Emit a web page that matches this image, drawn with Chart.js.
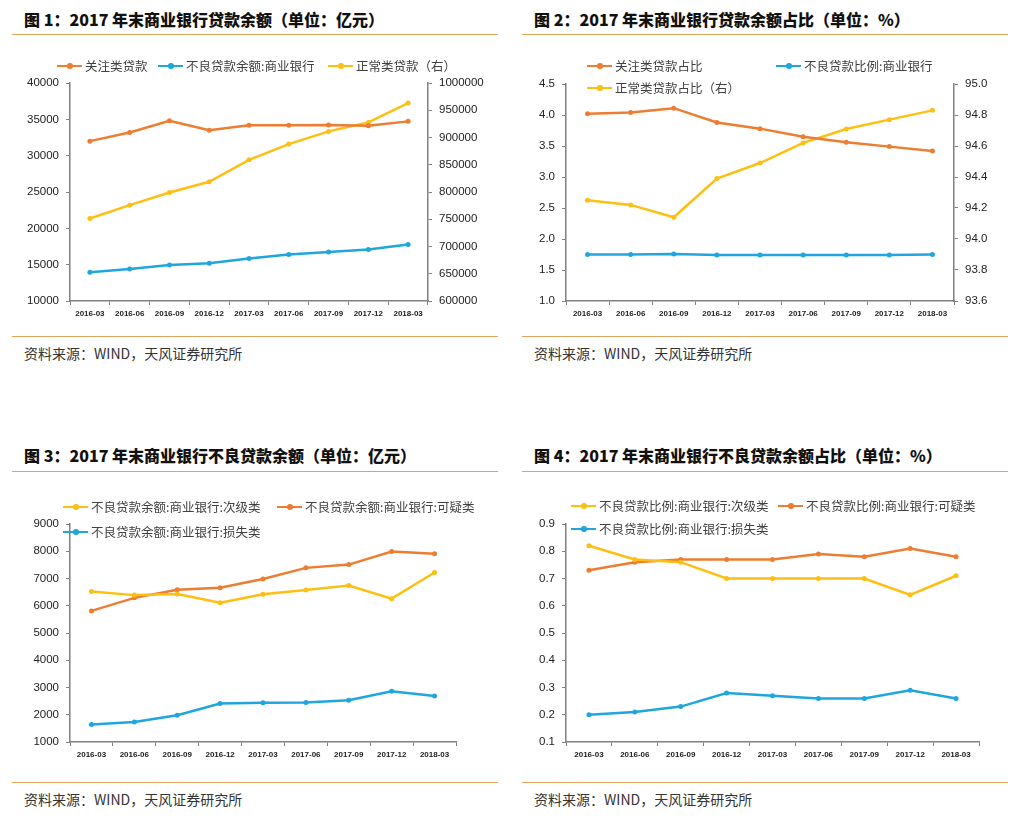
<!DOCTYPE html>
<html>
<head>
<meta charset="utf-8">
<script src="https://cdn.jsdelivr.net/npm/chart.js@4.4.1/dist/chart.umd.min.js"></script>
<style>
  body { margin: 0; background: #fff; }
  #page { position: relative; width: 1019px; height: 822px; overflow: hidden; background: #fff; font-family: "Noto Sans CJK SC", sans-serif; }
  .panel { position: absolute; }
  .panel canvas { position: absolute; left: 0; top: 0; }
  .title { position: absolute; left: 24px; font-size: 16px; font-weight: 900; color: #111; white-space: nowrap; line-height: 20px; }
  .rule { position: absolute; left: 12px; width: 486px; height: 0; border-top: 1.5px solid #DFA55C; }
  .source { position: absolute; left: 24px; font-size: 14px; color: #333; line-height: 18px; white-space: nowrap; }
  .lg { position: absolute; display: flex; align-items: center; font-size: 12.5px; color: #404040; white-space: nowrap; line-height: 16px; z-index: 2; }
  .lg i { position: relative; display: inline-block; width: 25px; height: 2.5px; margin-right: 3px; }
  .lg i b { position: absolute; left: 10px; top: -1.5px; width: 5.5px; height: 5.5px; border-radius: 50%; background: inherit; }
</style>
</head>
<body>
<div id="page">
  <div class="panel" style="left:0;top:0;width:510px;height:430px">
    <div class="title" style="top:9px">图 1：2017 年末商业银行贷款余额（单位：亿元）</div>
    <div class="rule" style="top:34px"></div>
    <canvas id="chart1" width="510" height="330"></canvas>
    <div id="legend1"></div>
    <div class="rule" style="top:336px"></div>
    <div class="source" style="top:344px">资料来源：WIND，天风证券研究所</div>
  </div>
  <div class="panel" style="left:510px;top:0;width:509px;height:430px">
    <div class="title" style="top:9px">图 2：2017 年末商业银行贷款余额占比（单位：%）</div>
    <div class="rule" style="top:34px"></div>
    <canvas id="chart2" width="509" height="330"></canvas>
    <div id="legend2"></div>
    <div class="rule" style="top:336px"></div>
    <div class="source" style="top:344px">资料来源：WIND，天风证券研究所</div>
  </div>
  <div class="panel" style="left:0;top:430px;width:510px;height:392px">
    <div class="title" style="top:15px">图 3：2017 年末商业银行不良贷款余额（单位：亿元）</div>
    <div class="rule" style="top:41px"></div>
    <canvas id="chart3" width="510" height="341"></canvas>
    <div id="legend3"></div>
    <div class="rule" style="top:352px"></div>
    <div class="source" style="top:360px">资料来源：WIND，天风证券研究所</div>
  </div>
  <div class="panel" style="left:510px;top:430px;width:509px;height:392px">
    <div class="title" style="top:15px">图 4：2017 年末商业银行不良贷款余额占比（单位：%）</div>
    <div class="rule" style="top:41px"></div>
    <canvas id="chart4" width="509" height="341"></canvas>
    <div id="legend4"></div>
    <div class="rule" style="top:352px"></div>
    <div class="source" style="top:360px">资料来源：WIND，天风证券研究所</div>
  </div>
</div>
<script>
// Quarter labels shared by all four charts
const quarters = ["2016-03", "2016-06", "2016-09", "2016-12", "2017-03", "2017-06", "2017-09", "2017-12", "2018-03"];

// Chart 1: loan balances (亿元)
const attentionLoans = [32000, 33200, 34800, 33500, 34200, 34170, 34210, 34120, 34720];
const nplBalance = [13950, 14410, 14960, 15190, 15840, 16390, 16750, 17080, 17760];
const normalLoans = [751300, 775800, 799100, 818700, 859100, 887900, 911200, 927700, 963200];

// Chart 2: loan shares (%)
const attentionRatio = [4.02, 4.04, 4.11, 3.88, 3.78, 3.65, 3.56, 3.49, 3.42];
const nplRatio = [1.75, 1.75, 1.76, 1.74, 1.74, 1.74, 1.74, 1.74, 1.75];
const normalRatio = [94.25, 94.22, 94.14, 94.39, 94.49, 94.62, 94.71, 94.77, 94.83];

// Chart 3: NPL balances by class (亿元)
const substandard = [6520, 6390, 6430, 6110, 6420, 6580, 6740, 6260, 7220];
const doubtful = [5810, 6290, 6590, 6660, 6980, 7390, 7510, 7990, 7910];
const loss = [1640, 1730, 1980, 2410, 2440, 2450, 2530, 2860, 2690];

// Chart 4: NPL ratios by class (%)
const substandardRatio = [0.82, 0.77, 0.76, 0.70, 0.70, 0.70, 0.70, 0.64, 0.71];
const doubtfulRatio = [0.73, 0.76, 0.77, 0.77, 0.77, 0.79, 0.78, 0.81, 0.78];
const lossRatio = [0.20, 0.21, 0.23, 0.28, 0.27, 0.26, 0.26, 0.29, 0.26];

const ORANGE = "#ED7D31";
const BLUE = "#1FA6DE";
const YELLOW = "#FDBF12";
const AXIS = "#808080";
const TICK_FONT = "'Liberation Sans', Arial, sans-serif";

function series(label, data, color, yAxisID = "y") {
  return {
    label,
    data,
    borderColor: color,
    backgroundColor: color,
    borderWidth: 2.5,
    pointRadius: 2.5,
    pointHoverRadius: 2.5,
    pointBorderWidth: 0,
    tension: 0,
    yAxisID,
  };
}

function valueAxis(position, min, max, step, digits, plotEdge, W) {
  return {
    position,
    min,
    max,
    grid: { drawOnChartArea: false, color: AXIS, tickLength: 4, lineWidth: 1 },
    border: { color: AXIS, width: 1.5 },
    ticks: {
      stepSize: step,
      color: "#222",
      padding: 7,
      font: { family: TICK_FONT, size: 11.5 },
      callback: (v) => Number(v).toFixed(digits),
    },
    afterFit: (s) => {
      s.width = position === "left" ? plotEdge : W - plotEdge;
    },
  };
}

function buildLegend(id, items) {
  const holder = document.getElementById(id);
  items.forEach((it) => {
    const el = document.createElement("div");
    el.className = "lg";
    el.style.left = it.x + "px";
    el.style.top = it.y - 8 + "px";
    const mark = document.createElement("i");
    mark.style.background = it.color;
    mark.appendChild(document.createElement("b"));
    el.appendChild(mark);
    el.appendChild(document.createTextNode(it.text));
    holder.appendChild(el);
  });
}

function createLineChart(canvasId, plot, datasets, left, right) {
  const canvas = document.getElementById(canvasId);
  const W = canvas.width;
  const H = canvas.height;

  const scales = {
    x: {
      offset: true,
      grid: { offset: true, drawOnChartArea: false, color: AXIS, tickLength: 4, lineWidth: 1 },
      border: { color: AXIS, width: 1.5 },
      ticks: {
        color: "#222",
        padding: 4,
        maxRotation: 0,
        autoSkip: false,
        font: { family: TICK_FONT, size: 8, weight: "bold" },
      },
      afterFit: (s) => {
        s.height = H - plot.bottom;
      },
    },
    y: valueAxis("left", left.min, left.max, left.step, left.digits, plot.left, W),
  };
  if (right) {
    scales.y1 = valueAxis("right", right.min, right.max, right.step, right.digits, plot.right, W);
  }

  return new Chart(canvas.getContext("2d"), {
    type: "line",
    data: { labels: quarters, datasets },
    options: {
      responsive: false,
      animation: false,
      layout: {
        padding: { top: plot.top, left: 0, bottom: 0, right: right ? 0 : W - plot.right },
      },
      plugins: { legend: { display: false }, tooltip: { enabled: false } },
      scales,
    },
  });
}

// Chart 1
createLineChart(
  "chart1",
  { left: 70, right: 428, top: 83, bottom: 301 },
  [
    series("关注类贷款", attentionLoans, ORANGE),
    series("不良贷款余额:商业银行", nplBalance, BLUE),
    series("正常类贷款（右）", normalLoans, YELLOW, "y1"),
  ],
  { min: 10000, max: 40000, step: 5000, digits: 0 },
  { min: 600000, max: 1000000, step: 50000, digits: 0 }
);
buildLegend("legend1", [
  { x: 57, y: 66, color: ORANGE, text: "关注类贷款" },
  { x: 158, y: 66, color: BLUE, text: "不良贷款余额:商业银行" },
  { x: 328, y: 66, color: YELLOW, text: "正常类贷款（右）" },
]);

// Chart 2
createLineChart(
  "chart2",
  { left: 56, right: 444, top: 84, bottom: 301 },
  [
    series("关注类贷款占比", attentionRatio, ORANGE),
    series("不良贷款比例:商业银行", nplRatio, BLUE),
    series("正常类贷款占比（右）", normalRatio, YELLOW, "y1"),
  ],
  { min: 1.0, max: 4.5, step: 0.5, digits: 1 },
  { min: 93.6, max: 95.0, step: 0.2, digits: 1 }
);
buildLegend("legend2", [
  { x: 77, y: 66, color: ORANGE, text: "关注类贷款占比" },
  { x: 266, y: 66, color: BLUE, text: "不良贷款比例:商业银行" },
  { x: 77, y: 88, color: YELLOW, text: "正常类贷款占比（右）" },
]);

// Chart 3
createLineChart(
  "chart3",
  { left: 70, right: 456, top: 94, bottom: 312 },
  [
    series("不良贷款余额:商业银行:次级类", substandard, YELLOW),
    series("不良贷款余额:商业银行:可疑类", doubtful, ORANGE),
    series("不良贷款余额:商业银行:损失类", loss, BLUE),
  ],
  { min: 1000, max: 9000, step: 1000, digits: 0 },
  null
);
buildLegend("legend3", [
  { x: 63, y: 77, color: YELLOW, text: "不良贷款余额:商业银行:次级类" },
  { x: 277, y: 77, color: ORANGE, text: "不良贷款余额:商业银行:可疑类" },
  { x: 63, y: 102, color: BLUE, text: "不良贷款余额:商业银行:损失类" },
]);

// Chart 4
createLineChart(
  "chart4",
  { left: 56, right: 469, top: 94, bottom: 312 },
  [
    series("不良贷款比例:商业银行:次级类", substandardRatio, YELLOW),
    series("不良贷款比例:商业银行:可疑类", doubtfulRatio, ORANGE),
    series("不良贷款比例:商业银行:损失类", lossRatio, BLUE),
  ],
  { min: 0.1, max: 0.9, step: 0.1, digits: 1 },
  null
);
buildLegend("legend4", [
  { x: 61, y: 76, color: YELLOW, text: "不良贷款比例:商业银行:次级类" },
  { x: 268, y: 76, color: ORANGE, text: "不良贷款比例:商业银行:可疑类" },
  { x: 61, y: 99, color: BLUE, text: "不良贷款比例:商业银行:损失类" },
]);
</script>
</body>
</html>
